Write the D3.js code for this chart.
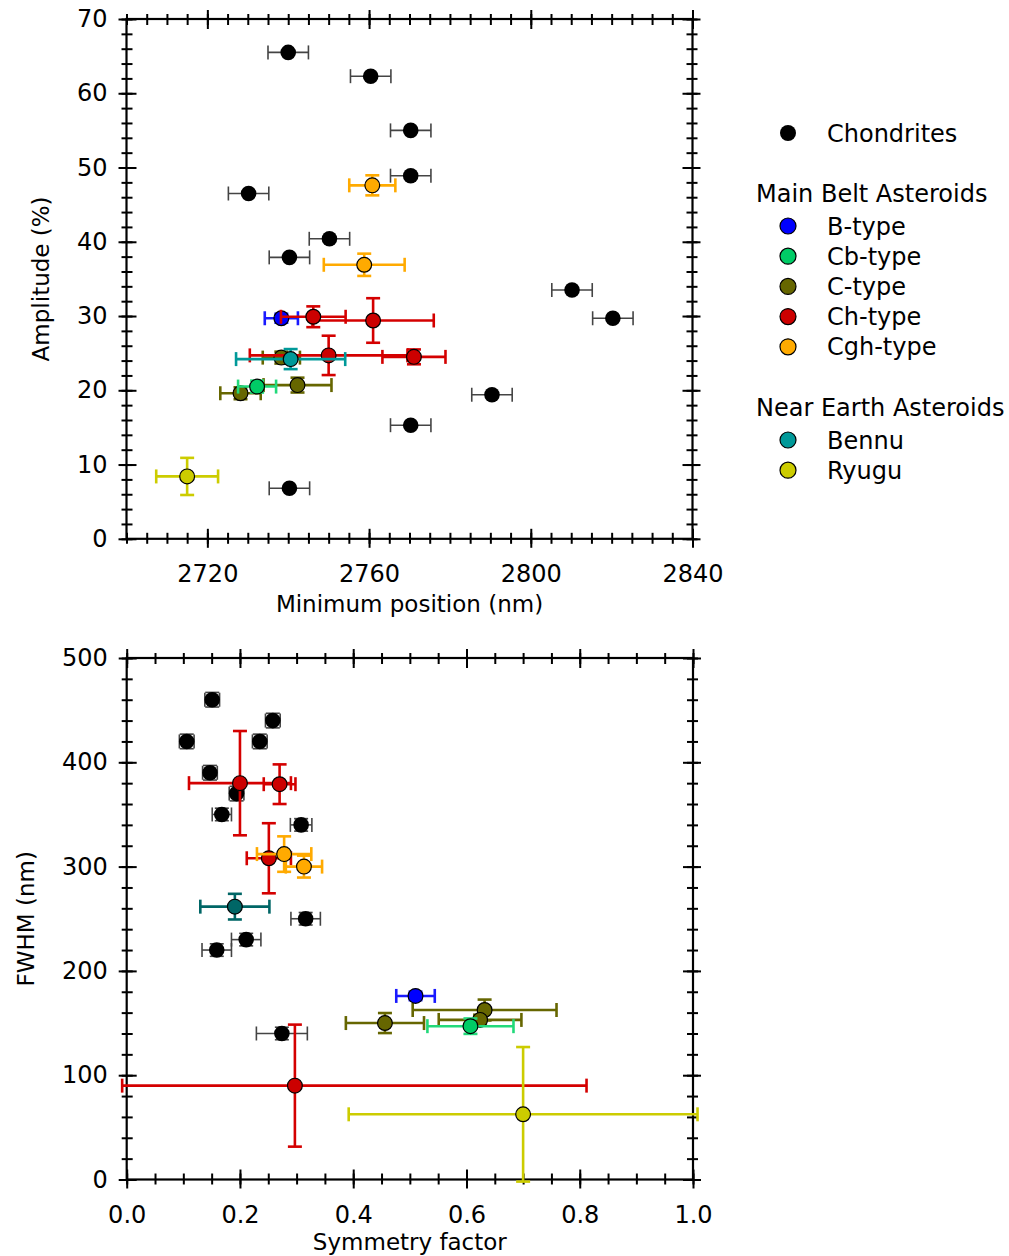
<!DOCTYPE html>
<html><head><meta charset="utf-8">
<script src="https://cdn.jsdelivr.net/npm/d3@7"></script>
<style>body{margin:0;background:#fff} text{font-family:"DejaVu Sans",sans-serif;fill:#000}</style>
</head><body><svg id="c" width="1009" height="1256"></svg>
<script>
// ---------- DATA ----------
// each point: [x, y, xErrLow, xErrHigh, yErrLow, yErrHigh]
// Top panel: Minimum position (nm) vs Amplitude (%)
const topChondrites = [
  [2740.0, 65.5, 5, 5, 0, 0], [2760.4, 62.3, 5, 5, 0, 0], [2770.3, 55.0, 5, 5, 0, 0],
  [2770.3, 48.9, 5, 5, 0, 0], [2730.2, 46.5, 5, 5, 0, 0], [2750.2, 40.4, 5, 5, 0, 0],
  [2740.3, 37.9, 5, 5, 0, 0], [2810.2, 33.5, 5, 5, 0, 0], [2820.3, 29.7, 5, 5, 0, 0],
  [2790.4, 19.4, 5, 5, 0, 0], [2770.3, 15.3, 5, 5, 0, 0], [2740.3, 6.8, 5, 5, 0, 0]
];
const topCtype = [[2738.3, 24.4, 4.6, 4.6, 0.8, 0.8], [2742.3, 20.7, 8.4, 8.4, 1.0, 1.0], [2728.2, 19.6, 5.0, 5.0, 0.8, 0.8]];
const topCbtype = [[2732.3, 20.5, 4.7, 4.7, 0.8, 0.8]];
const topBtype = [[2738.3, 29.7, 4.1, 4.1, 0.6, 0.6]];
const topChtype = [[2746.2, 29.9, 8, 8, 1.4, 1.4], [2761.0, 29.4, 15, 15, 3.0, 3.0], [2750.0, 24.7, 19.5, 19.5, 2.65, 2.65], [2771.1, 24.5, 7.8, 7.8, 1.0, 1.0]];
const topCghtype = [[2760.8, 47.6, 5.7, 5.7, 1.35, 1.35], [2758.8, 36.9, 10, 10, 1.5, 1.5]];
const topBennu = [[2740.6, 24.2, 13.5, 13.5, 1.35, 1.35]];
const topRyugu = [[2715.0, 8.4, 7.65, 7.65, 2.5, 2.5]];

// Bottom panel: Symmetry factor vs FWHM (nm)
const botChondrites = [
  [0.151, 460, 0.013, 0.013, 7, 7], [0.258, 440, 0.013, 0.013, 7, 7], [0.106, 420, 0.013, 0.013, 7, 7],
  [0.235, 420, 0.013, 0.013, 7, 7], [0.147, 390, 0.013, 0.013, 7, 7], [0.194, 370, 0.013, 0.013, 7, 7],
  [0.168, 350, 0.017, 0.017, 6, 6], [0.308, 340, 0.019, 0.019, 6, 6], [0.316, 250, 0.026, 0.026, 6, 6],
  [0.211, 230, 0.026, 0.026, 6, 6], [0.159, 220, 0.026, 0.026, 6, 6], [0.274, 140, 0.045, 0.045, 6, 6]
];
const botCtype = [[0.456, 150, 0.069, 0.069, 9.6, 9.6], [0.632, 162.5, 0.127, 0.127, 10, 10], [0.624, 153, 0.073, 0.073, 5, 5]];
const botCbtype = [[0.607, 147, 0.076, 0.076, 7.4, 7.4]];
const botBtype = [[0.510, 176, 0.034, 0.034, 4, 4]];
const botChtype = [[0.200, 380, 0.09, 0.09, 50, 50], [0.270, 379, 0.028, 0.028, 19, 19], [0.251, 308, 0.039, 0.039, 33.6, 33.6], [0.297, 90, 0.305, 0.515, 58.5, 58.5]];
const botCghtype = [[0.278, 312, 0.048, 0.048, 17, 17], [0.313, 300, 0.032, 0.032, 10.5, 10.5]];
const botBennu = [[0.191, 261.6, 0.061, 0.061, 12.3, 12.3]];
const botRyugu = [[0.700, 62.5, 0.308, 0.308, 64.5, 64.5]];

// Axis ticks
const topXMajor = [2720, 2760, 2800, 2840];
const topXMinor = d3.range(2700, 2841, 5);
const topYMajor = [0, 10, 20, 30, 40, 50, 60, 70];
const topYMinor = d3.range(0, 71, 2);
const botXMajor = [0, 0.2, 0.4, 0.6, 0.8, 1.0];
const botXMinor = d3.range(0, 21).map(i => i * 0.05);
const botYMajor = [0, 100, 200, 300, 400, 500];
const botYMinor = d3.range(0, 501, 20);

// Legend
const legendGroups = [
  { title: null, items: ["Chondrites"] },
  { title: "Main Belt Asteroids", items: ["B-type", "Cb-type", "C-type", "Ch-type", "Cgh-type"] },
  { title: "Near Earth Asteroids", items: ["Bennu", "Ryugu"] }
];

// ---------- STYLES ----------
const fillColor = { "Chondrites": "#000000", "B-type": "#0000ff", "Cb-type": "#00cc66", "C-type": "#666600",
  "Ch-type": "#cc0000", "Cgh-type": "#ffaa00", "Bennu": "#009999", "Ryugu": "#cccc00" };
const barColor = { "Chondrites": "#444444", "B-type": "#1a1aff", "Cb-type": "#22d97a", "C-type": "#666600",
  "Ch-type": "#d40000", "Cgh-type": "#ffaa00", "Bennu": "#009999", "Ryugu": "#cccc00" };

const svg = d3.select("#c");
const FS = 24, TFS = 23;

function drawPanel(cfg) {
  const x = d3.scaleLinear().domain(cfg.xDomain).range([cfg.L, cfg.R]);
  const y = d3.scaleLinear().domain(cfg.yDomain).range([cfg.B, cfg.T]);
  const g = svg.append("g");

  const axStyle = sel => {
    sel.select(".domain").remove();
    sel.selectAll("line").attr("stroke", "#000").attr("stroke-width", 2);
    sel.selectAll("text").attr("font-size", FS).attr("font-family", "DejaVu Sans").attr("fill", "#000");
  };
  const fmtX = cfg.xFmt, fmtY = cfg.yFmt;
  // bottom
  g.append("g").attr("transform", `translate(0,${cfg.B})`)
    .call(d3.axisBottom(x).tickValues(cfg.xMajor).tickSize(9).tickSizeOuter(0).tickPadding(17.5).tickFormat(fmtX)).call(axStyle);
  g.append("g").attr("transform", `translate(0,${cfg.B})`)
    .call(d3.axisBottom(x).tickValues(cfg.xMajor).tickSize(-10).tickSizeOuter(0).tickFormat("")).call(axStyle);
  g.append("g").attr("transform", `translate(0,${cfg.B})`)
    .call(d3.axisBottom(x).tickValues(cfg.xMinor).tickSize(5).tickSizeOuter(0).tickFormat("")).call(axStyle);
  g.append("g").attr("transform", `translate(0,${cfg.B})`)
    .call(d3.axisBottom(x).tickValues(cfg.xMinor).tickSize(-6).tickSizeOuter(0).tickFormat("")).call(axStyle);
  // top
  g.append("g").attr("transform", `translate(0,${cfg.T})`)
    .call(d3.axisTop(x).tickValues(cfg.xMajor).tickSize(9).tickSizeOuter(0).tickFormat("")).call(axStyle);
  g.append("g").attr("transform", `translate(0,${cfg.T})`)
    .call(d3.axisTop(x).tickValues(cfg.xMajor).tickSize(-10).tickSizeOuter(0).tickFormat("")).call(axStyle);
  g.append("g").attr("transform", `translate(0,${cfg.T})`)
    .call(d3.axisTop(x).tickValues(cfg.xMinor).tickSize(5).tickSizeOuter(0).tickFormat("")).call(axStyle);
  g.append("g").attr("transform", `translate(0,${cfg.T})`)
    .call(d3.axisTop(x).tickValues(cfg.xMinor).tickSize(-6).tickSizeOuter(0).tickFormat("")).call(axStyle);
  // left
  g.append("g").attr("transform", `translate(${cfg.L},0)`)
    .call(d3.axisLeft(y).tickValues(cfg.yMajor).tickSize(8).tickSizeOuter(0).tickPadding(11).tickFormat(fmtY)).call(axStyle);
  g.append("g").attr("transform", `translate(${cfg.L},0)`)
    .call(d3.axisLeft(y).tickValues(cfg.yMajor).tickSize(-10).tickSizeOuter(0).tickFormat("")).call(axStyle);
  g.append("g").attr("transform", `translate(${cfg.L},0)`)
    .call(d3.axisLeft(y).tickValues(cfg.yMinor).tickSize(5).tickSizeOuter(0).tickFormat("")).call(axStyle);
  g.append("g").attr("transform", `translate(${cfg.L},0)`)
    .call(d3.axisLeft(y).tickValues(cfg.yMinor).tickSize(-6).tickSizeOuter(0).tickFormat("")).call(axStyle);
  // right
  g.append("g").attr("transform", `translate(${cfg.R},0)`)
    .call(d3.axisRight(y).tickValues(cfg.yMajor).tickSize(8).tickSizeOuter(0).tickFormat("")).call(axStyle);
  g.append("g").attr("transform", `translate(${cfg.R},0)`)
    .call(d3.axisRight(y).tickValues(cfg.yMajor).tickSize(-10).tickSizeOuter(0).tickFormat("")).call(axStyle);
  g.append("g").attr("transform", `translate(${cfg.R},0)`)
    .call(d3.axisRight(y).tickValues(cfg.yMinor).tickSize(5).tickSizeOuter(0).tickFormat("")).call(axStyle);
  g.append("g").attr("transform", `translate(${cfg.R},0)`)
    .call(d3.axisRight(y).tickValues(cfg.yMinor).tickSize(-6).tickSizeOuter(0).tickFormat("")).call(axStyle);

  // frame
  g.append("rect").attr("x", cfg.L).attr("y", cfg.T).attr("width", cfg.R - cfg.L).attr("height", cfg.B - cfg.T)
    .attr("fill", "none").attr("stroke", "#000").attr("stroke-width", 2.2);

  // titles
  g.append("text").attr("x", (cfg.L + cfg.R) / 2).attr("y", cfg.xTitleY).attr("text-anchor", "middle")
    .attr("font-size", TFS).text(cfg.xTitle);
  g.append("text").attr("transform", `translate(${cfg.yTitleX},${(cfg.T + cfg.B) / 2}) rotate(-90)`)
    .attr("text-anchor", "middle").attr("font-size", TFS).text(cfg.yTitle);

  // series
  const cap = 7;
  cfg.series.forEach(s => {
    const col = (cfg.barOverride && cfg.barOverride[s.name]) || barColor[s.name];
    const fill = (cfg.fillOverride && cfg.fillOverride[s.name]) || fillColor[s.name];
    const isCh = s.name === "Chondrites";
    const sw = isCh ? 1.6 : 2.6;
    const sg = g.append("g");
    s.data.forEach(d => {
      const px = x(d[0]), py = y(d[1]);
      if (d[2] > 0 || d[3] > 0) {
        const x0 = x(d[0] - d[2]), x1 = x(d[0] + d[3]);
        sg.append("line").attr("x1", x0).attr("x2", x1).attr("y1", py).attr("y2", py).attr("stroke", col).attr("stroke-width", sw);
        [x0, x1].forEach(cx => sg.append("line").attr("x1", cx).attr("x2", cx).attr("y1", py - cap).attr("y2", py + cap)
          .attr("stroke", col).attr("stroke-width", sw));
      }
      if (d[4] > 0 || d[5] > 0) {
        const y0 = y(d[1] - d[4]), y1 = y(d[1] + d[5]);
        sg.append("line").attr("x1", px).attr("x2", px).attr("y1", y0).attr("y2", y1).attr("stroke", col).attr("stroke-width", sw);
        [y0, y1].forEach(cy => sg.append("line").attr("x1", px - cap).attr("x2", px + cap).attr("y1", cy).attr("y2", cy)
          .attr("stroke", col).attr("stroke-width", sw));
      }
    });
    sg.selectAll("circle").data(s.data).join("circle")
      .attr("cx", d => x(d[0])).attr("cy", d => y(d[1])).attr("r", isCh ? 7.8 : 7.4)
      .attr("fill", fill).attr("stroke", "#000").attr("stroke-width", isCh ? 0 : 1.2);
  });
}

drawPanel({
  L: 126.5, R: 692.5, T: 19, B: 538.8,
  xDomain: [2700, 2840], yDomain: [0, 70],
  xMajor: topXMajor, xMinor: topXMinor, yMajor: topYMajor, yMinor: topYMinor,
  xFmt: d3.format("d"), yFmt: d3.format("d"),
  xTitle: "Minimum position (nm)", xTitleY: 612,
  yTitle: "Amplitude (%)", yTitleX: 49,
  series: [
    { name: "Chondrites", data: topChondrites },
    { name: "C-type", data: topCtype },
    { name: "Cb-type", data: topCbtype },
    { name: "B-type", data: topBtype },
    { name: "Ch-type", data: topChtype },
    { name: "Cgh-type", data: topCghtype },
    { name: "Bennu", data: topBennu },
    { name: "Ryugu", data: topRyugu }
  ]
});

drawPanel({
  L: 126.7, R: 693, T: 658, B: 1179.5,
  xDomain: [0, 1], yDomain: [0, 500],
  xMajor: botXMajor, xMinor: botXMinor, yMajor: botYMajor, yMinor: botYMinor,
  xFmt: d3.format(".1f"), yFmt: d3.format("d"),
  xTitle: "Symmetry factor", xTitleY: 1250,
  yTitle: "FWHM (nm)", yTitleX: 34,
  fillOverride: { "Bennu": "#006666" }, barOverride: { "Bennu": "#006666" },
  series: [
    { name: "Chondrites", data: botChondrites },
    { name: "C-type", data: botCtype },
    { name: "Cb-type", data: botCbtype },
    { name: "B-type", data: botBtype },
    { name: "Ch-type", data: botChtype },
    { name: "Cgh-type", data: botCghtype },
    { name: "Bennu", data: botBennu },
    { name: "Ryugu", data: botRyugu }
  ]
});

// legend
(function () {
  const lg = svg.append("g");
  const markerX = 788, textX = 827, titleX = 756, step = 30.2;
  let yc = 133;
  legendGroups.forEach((grp, gi) => {
    if (gi === 1) yc = 193;
    if (gi === 2) yc = 407;
    if (grp.title) {
      lg.append("text").attr("x", titleX).attr("y", yc + 8.5).attr("font-size", FS).text(grp.title);
      yc += 33;
    }
    grp.items.forEach((name, i) => {
      const cy = yc + i * step;
      lg.append("circle").attr("cx", markerX).attr("cy", cy).attr("r", 8)
        .attr("fill", fillColor[name]).attr("stroke", "#000").attr("stroke-width", name === "Chondrites" ? 0 : 1.2);
      lg.append("text").attr("x", textX).attr("y", cy + 8.5).attr("font-size", FS).text(name);
    });
  });
})();
</script>
</body></html>
